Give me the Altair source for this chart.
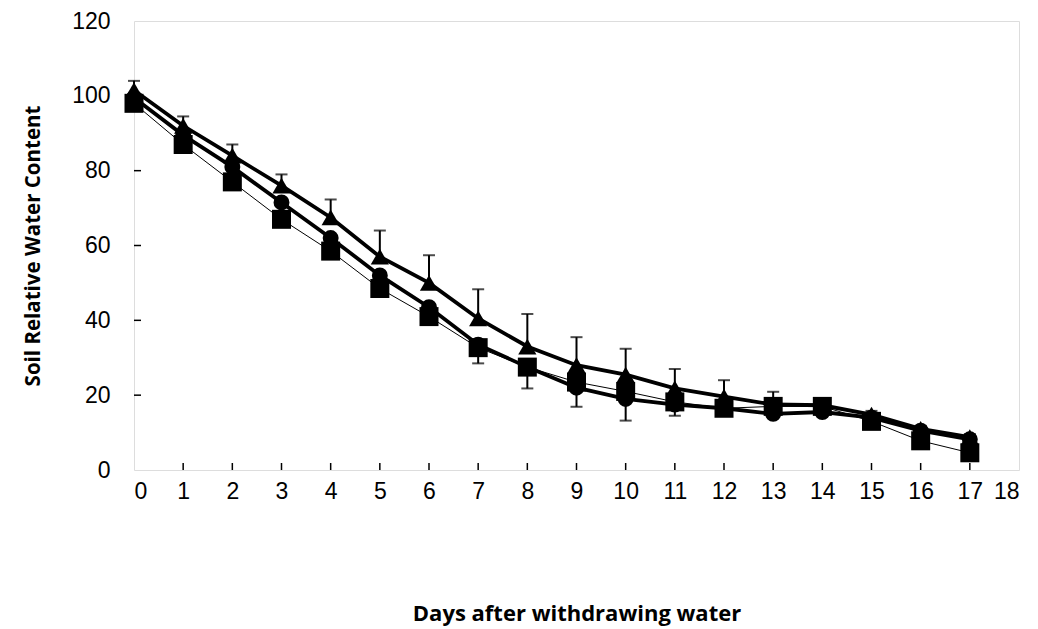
import altair as alt
import pandas as pd

days = list(range(18))
x_tick_values = list(range(19))
y_tick_values = [0, 20, 40, 60, 80, 100, 120]

# Triangle series (thick line, upward error bars)
tri = [101.5, 92, 84, 76, 67.5, 57, 50, 40.5, 33, 28, 25.5, 21.8, 19.6, 17.5, 17.3, 14.8, 11, 8.8]
tri_sd = [2.5, 2.5, 3, 3, 4.8, 7, 7.4, 7.8, 8.7, 7.5, 6.9, 5.2, 4.4, 3.4, 1.5, 1, 0.8, 0.8]
# Circle series (thick line)
circ = [99.5, 89.5, 81, 71.5, 62, 52, 43.5, 33.5, 27.5, 22, 19, 17.5, 16.5, 15, 15.5, 14, 10.5, 8.2]
# Square series (thin line, downward error bars)
sq = [98, 87, 77, 67, 58.5, 48.5, 41, 32.7, 27.5, 23.5, 21, 18.2, 16.5, 17, 17, 13, 7.8, 4.6]
sq_sd = [1, 1, 1, 1, 1, 1, 1.5, 4.2, 5.7, 6.6, 7.8, 3.7, 1, 1, 1, 1, 1, 1]

W, H = 885, 449

df = pd.DataFrame({"day": days, "tri": tri, "tri_sd": tri_sd, "circ": circ,
                   "sq": sq, "sq_sd": sq_sd})

xscale = alt.Scale(domain=[0, 18], nice=False, zero=False)
yscale = alt.Scale(domain=[0, 120], nice=False)

xaxis = alt.Axis(values=x_tick_values, title="Days after withdrawing water",
                 ticks=False, domain=False, grid=False, labelPadding=10,
                 labelFont="Liberation Sans", labelFontSize=23, labelColor="black",
                 titleFont="Open Sans", titleFontSize=22, titleFontWeight="bold", titleColor="black",
                 titleX=W / 2, titleY=143, titleBaseline="middle", titleAlign="center")
yaxis = alt.Axis(values=y_tick_values, title="Soil Relative Water Content",
                 ticks=False, domain=False, grid=False, labelPadding=24,
                 labelFont="Liberation Sans", labelFontSize=23, labelColor="black",
                 titleFont="Open Sans", titleFontSize=20.5, titleFontWeight="bold", titleColor="black",
                 titleX=-101, titleY=H / 2, titleAngle=-90, titleBaseline="middle", titleAlign="center")

X = alt.X("day:Q", scale=xscale, axis=xaxis)

def Y(field):
    return alt.Y(f"{field}:Q", scale=yscale, axis=yaxis)

base = alt.Chart(df)

# inward tick marks
xticks = alt.Chart(pd.DataFrame({"t": x_tick_values[1:-1]})).mark_rule(
    color="black", strokeWidth=1.5).encode(
    x=alt.X("t:Q", scale=xscale, axis=xaxis), y=alt.value(H), y2=alt.value(H - 7))
yticks = alt.Chart(pd.DataFrame({"v": y_tick_values[1:-1]})).mark_rule(
    color="black", strokeWidth=1.5).encode(
    y=alt.Y("v:Q", scale=yscale, axis=yaxis), x=alt.value(0), x2=alt.value(7))

line_sq = base.mark_line(color="black", strokeWidth=1).encode(x=X, y=Y("sq"))
line_circ = base.mark_line(color="black", strokeWidth=3.8).encode(x=X, y=Y("circ"))
line_tri = base.mark_line(color="black", strokeWidth=3.8).encode(x=X, y=Y("tri"))

tri_err = base.transform_calculate(top="datum.tri + datum.tri_sd")
err_tri = tri_err.mark_rule(color="black", strokeWidth=2).encode(x=X, y=Y("tri"), y2="top:Q")
cap_tri = tri_err.mark_tick(color="black", orient="horizontal", size=12, thickness=2).encode(
    x=X, y=Y("top"))

sq_err = base.transform_calculate(bot="datum.sq - datum.sq_sd")
err_sq = sq_err.mark_rule(color="black", strokeWidth=2).encode(x=X, y=Y("sq"), y2="bot:Q")
cap_sq = sq_err.mark_tick(color="black", orient="horizontal", size=12, thickness=2).encode(
    x=X, y=Y("bot"))

pt_tri = base.mark_point(shape="triangle-up", filled=True, color="black", size=330, opacity=1).encode(
    x=X, y=Y("tri"))
pt_circ = base.mark_point(shape="circle", filled=True, color="black", size=254, opacity=1).encode(
    x=X, y=Y("circ"))
pt_sq = base.mark_point(shape="square", filled=True, color="black", size=361, opacity=1).encode(
    x=X, y=Y("sq"))

chart = alt.layer(
    xticks, yticks, line_sq, line_circ, line_tri,
    err_tri, cap_tri, err_sq, cap_sq,
    pt_tri, pt_circ, pt_sq
).properties(
    width=W, height=H,
    autosize=alt.AutoSizeParams(type="none"),
    padding={"left": 126, "top": 13, "right": 10, "bottom": 158},
).configure_view(
    stroke="black", strokeWidth=2
).configure(background="white")

chart.save("out.html", embed_options={"renderer": "svg", "actions": False})
